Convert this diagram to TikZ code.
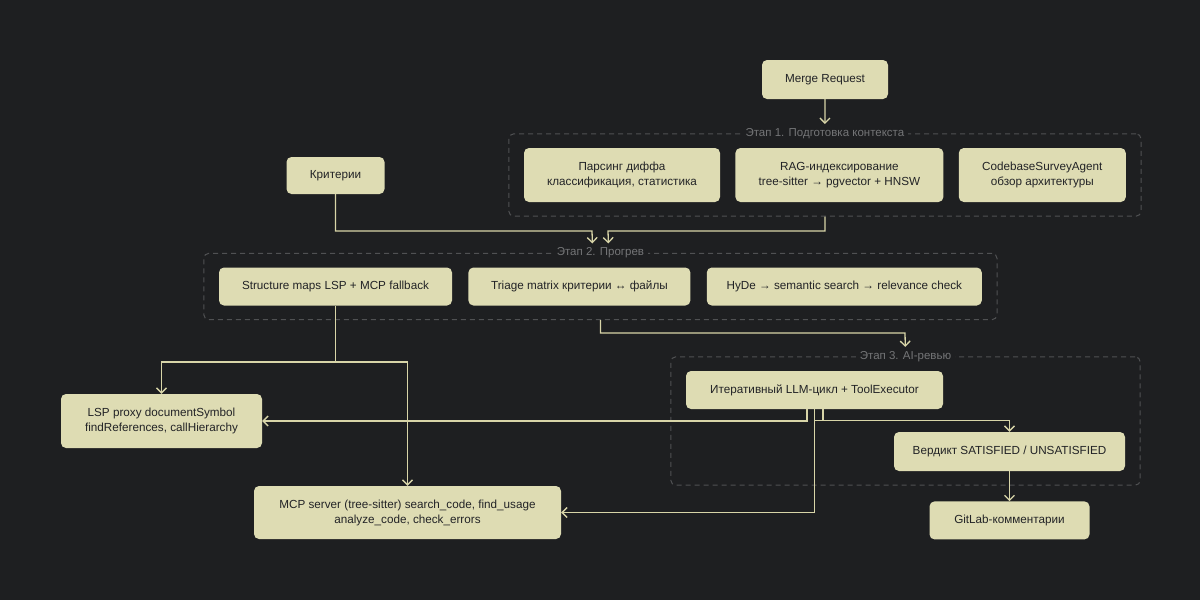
\documentclass[tikz,border=0pt]{standalone}
\usepackage{fontspec}
\setmainfont{Liberation Sans}
\usepackage{tikz}
\usetikzlibrary{positioning}
\usetikzlibrary{arrows.meta,fit}
\definecolor{bg}{HTML}{1E1F21}
\definecolor{boxfill}{HTML}{DEDCB3}
\definecolor{boxtext}{HTML}{222326}
\definecolor{wire}{HTML}{D8D5A8}
\definecolor{frame}{HTML}{505153}
\definecolor{framelabel}{HTML}{747577}
\tikzstyle{block} = [rectangle, fill=boxfill, text=boxtext, align=center,
    rounded corners=5pt, minimum height=38pt, inner sep=2pt,
    font=\fontsize{11.7}{15}\selectfont]
\tikzstyle{stage} = [draw=frame, line width=1pt, dash pattern=on 5pt off 4pt,
    rounded corners=5pt, inner xsep=15pt, inner ysep=14pt]
\tikzstyle{stagelabel} = [fill=bg, text=framelabel, inner sep=4pt,
    font=\fontsize{11.5}{13}\selectfont]
\tikzstyle{line} = [draw=wire, line width=1.3pt, -{Straight Barb[length=5pt,width=10pt]}]

\begin{document}
\begin{tikzpicture}[x=1pt, y=-1pt, node distance = 15pt]
    \path[use as bounding box, fill=bg] (0,0) rectangle (1200,600);
        % Nodes
    \node [block, minimum width=126pt, minimum height=39pt] (mr) at (825,79.5) {Merge Request};
    \node [block, minimum width=196pt, minimum height=54pt] (parse) at (622,175) {Парсинг диффа\\классификация, статистика};
    \node [block, minimum width=208pt, minimum height=54pt, right = 15pt of parse] (rag) {RAG-индексирование\\tree-sitter → pgvector + HNSW};
    \node [block, minimum width=167pt, minimum height=54pt, right = 15pt of rag] (survey) {CodebaseSurveyAgent\\обзор архитектуры};
    \node [block, minimum width=98pt, minimum height=37pt] (crit) at (335.5,175.5) {Критерии};
    \node [block, minimum width=233pt] (smap) at (335.5,286.5) {Structure maps LSP + MCP fallback};
    \node [block, minimum width=222pt, right = 16pt of smap] (triage) {Triage matrix критерии ↔ файлы};
    \node [block, minimum width=275pt, right = 16pt of triage] (hyde) {HyDe → semantic search → relevance check};
    \node [block, minimum width=257pt] (llm) at (814.5,390) {Итеративный LLM-цикл + ToolExecutor};
    \node [block, minimum width=231pt, minimum height=39pt] (verdict) at (1009.5,451.5) {Вердикт SATISFIED / UNSATISFIED};
    \node [block, minimum width=160pt, below = 30pt of verdict] (gitlab) {GitLab-комментарии};
    \node [block, minimum width=201pt, minimum height=54pt] (lsp) at (161.5,421) {LSP proxy documentSymbol\\findReferences, callHierarchy};
    \node [block, minimum width=307pt, minimum height=53pt] (mcp) at (407.5,512.5) {MCP server (tree-sitter) search\_code, find\_usage\\analyze\_code, check\_errors};
        % Stages
    \node [stage, fit=(parse) (rag) (survey)] (stage1) {};
    \node [stage, fit=(smap) (triage) (hyde)] (stage2) {};
    \node [stage, fit=(llm) (verdict)] (stage3) {};
    \node [stagelabel] (lab1) at (stage1.north) {Этап 1. Подготовка контекста};
    \node [stagelabel] (lab2) at (stage2.north) {Этап 2. Прогрев};
    \node [stagelabel] (lab3) at (stage3.north) {Этап 3. AI-ревью};
    \coordinate (j2) at (600,231);
    \coordinate (j3) at (905,333);
    \coordinate (jt) at (335.5,362);
        % Edges
    \path [line] (mr) -- (lab1);
    \path [line] (crit) |- ([xshift=-8pt]j2) -- ([xshift=-8pt]lab2.north);
    \path [line] (stage1) |- ([xshift=8pt]j2) -- ([xshift=8pt]lab2.north);
    \path [line] (stage2) |- (j3) -- (lab3);
    \path [line] (smap) -- (jt) -| (lsp);
    \path [line] (jt) -| (mcp);
    \path [line] ([xshift=-7.5pt]llm.south) |- (lsp);
    \path [line] (llm.south) |- (mcp);
    \path [line] ([xshift=8.5pt]llm.south) |- ([yshift=-11pt]llm.south) -| (verdict);
    \path [line] (verdict) -- (gitlab);
\end{tikzpicture}
\end{document}
